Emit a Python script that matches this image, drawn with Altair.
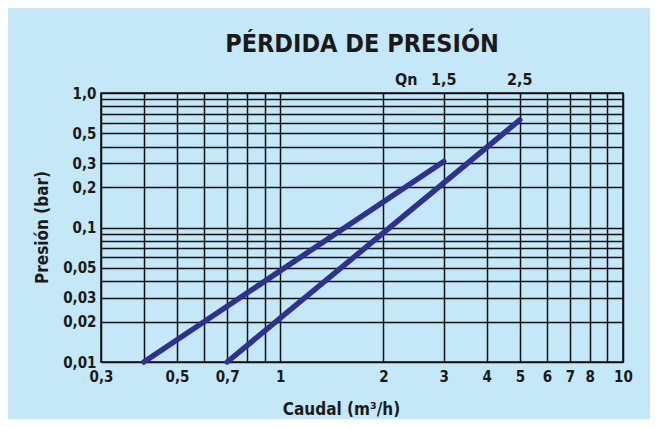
import json
import altair as alt
import pandas as pd

# ---- data ----
q15_caudal = [0.4, 3.0]
q15_presion = [0.01, 0.31]
q25_caudal = [0.7, 5.0]
q25_presion = [0.01, 0.63]

x_grid = [0.3, 0.4, 0.5, 0.6, 0.7, 0.8, 0.9, 1, 2, 3, 4, 5, 6, 7, 8, 9, 10]
x_labels = [0.3, 0.5, 0.7, 1, 2, 3, 4, 5, 6, 7, 8, 10]
y_grid = [0.01, 0.02, 0.03, 0.04, 0.05, 0.06, 0.07, 0.08, 0.09,
          0.1, 0.2, 0.3, 0.4, 0.5, 0.6, 0.7, 0.8, 0.9, 1.0]
y_labels = [0.01, 0.02, 0.03, 0.05, 0.1, 0.2, 0.3, 0.5, 1.0]

qn_text = ["Qn", "1,5", "2,5"]
qn_caudal = [2.33, 3, 5]
qn_presion = [1.0, 1.0, 1.0]

FONT = "Liberation Sans Narrow, DejaVu Sans Condensed, Roboto, sans-serif"
LINE_COLOR = "#2e3192"
GRID_COLOR = "#111111"
BG = "#c5e8f8"

lines_df = pd.DataFrame({
    "serie": ["Qn 1,5"] * len(q15_caudal) + ["Qn 2,5"] * len(q25_caudal),
    "caudal": q15_caudal + q25_caudal,
    "presion": q15_presion + q25_presion,
})
qn_df = pd.DataFrame({"t": qn_text, "caudal": qn_caudal, "presion": qn_presion})

x_expr = ("indexof(%s, datum.value) >= 0 ? replace(format(datum.value, '~g'), '.', ',') : ''"
          % json.dumps(x_labels))
y_expr = ("indexof(%s, datum.value) >= 0 ? (datum.value == 1 ? '1,0' : replace(format(datum.value, '~g'), '.', ',')) : ''"
          % json.dumps(y_labels))

x_scale = alt.Scale(type="log", domain=[0.3, 10], nice=False)
y_scale = alt.Scale(type="log", domain=[0.01, 1], nice=False)

x_axis = alt.Axis(
    values=x_grid, labelExpr=x_expr, grid=True, gridColor=GRID_COLOR, gridWidth=1.5,
    gridOpacity=1, ticks=False, domain=False, labelFlush=False, labelOverlap=False,
    labelBound=False, labelFont=FONT, labelFontSize=15, labelFontWeight="bold",
    labelColor="#1a1a1a", labelPadding=7,
    title="Caudal (m³/h)", titleFont=FONT, titleFontSize=17, titleFontWeight="bold",
    titleColor="#1a1a1a", titleX=240, titleY=47, titleBaseline="middle", titleAlign="center",
)
y_axis = alt.Axis(
    values=y_grid, labelExpr=y_expr, grid=True, gridColor=GRID_COLOR, gridWidth=1.5,
    gridOpacity=1, ticks=False, domain=False, labelFlush=False, labelOverlap=False,
    labelBound=False, labelFont=FONT, labelFontSize=15, labelFontWeight="bold",
    labelColor="#1a1a1a", labelPadding=5,
    title="Presión (bar)", titleFont=FONT, titleFontSize=17, titleFontWeight="bold",
    titleColor="#1a1a1a", titleX=-59, titleY=134, titleAngle=-90,
    titleBaseline="middle", titleAlign="center",
)

lines = alt.Chart(lines_df).mark_line(
    strokeWidth=5.5, strokeCap="round", color=LINE_COLOR
).encode(
    x=alt.X("caudal:Q", scale=x_scale, axis=x_axis),
    y=alt.Y("presion:Q", scale=y_scale, axis=y_axis),
    detail="serie:N",
)

qn = alt.Chart(qn_df).mark_text(
    font=FONT, fontSize=16, fontWeight="bold", color="#1a1a1a",
    baseline="bottom", dy=-5,
).encode(
    x=alt.X("caudal:Q", scale=x_scale),
    y=alt.Y("presion:Q", scale=y_scale),
    text="t:N",
)

chart = alt.layer(lines, qn).properties(
    width=522, height=269,
    autosize=alt.AutoSizeParams(type="none"),
    padding={"left": 93, "top": 85, "right": 27, "bottom": 57},
    background=BG,
    title=alt.TitleParams(
        "PÉRDIDA DE PRESIÓN", font=FONT, fontSize=25, fontWeight="bold",
        color="#1a1a1a", anchor="middle", offset=15,
    ),
).configure_view(stroke="#111111", strokeWidth=1.6)

chart.save("out.html", embed_options={"renderer": "svg", "actions": False})
